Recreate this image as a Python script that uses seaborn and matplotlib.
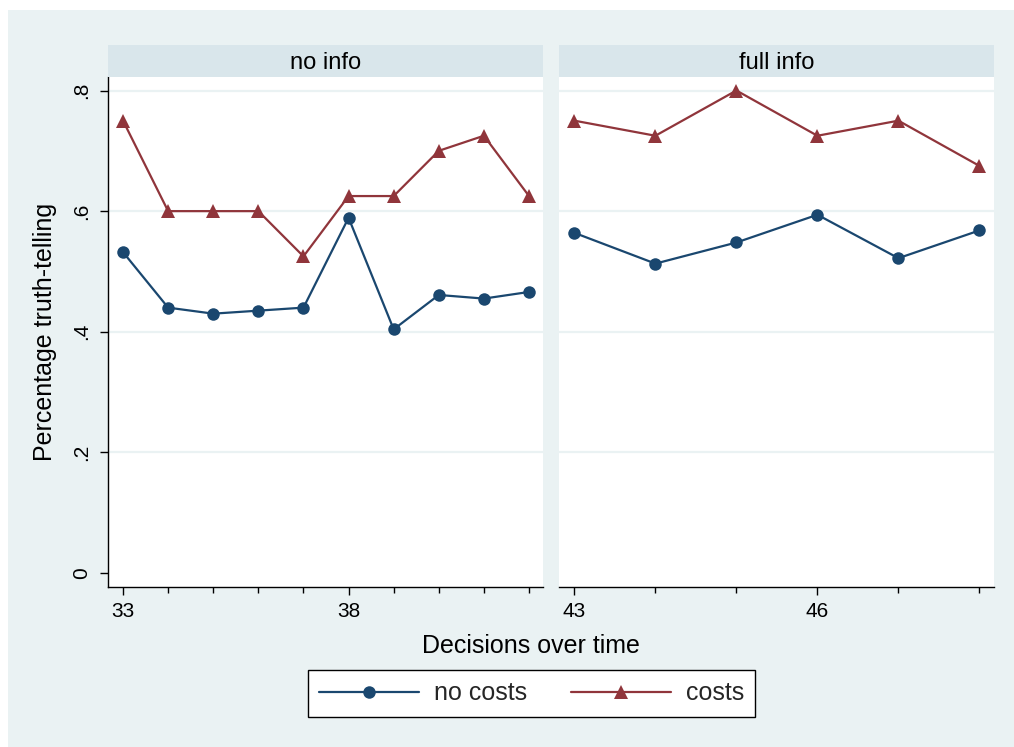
import numpy as np
import pandas as pd
import matplotlib
matplotlib.use("Agg")
import matplotlib.pyplot as plt
import seaborn as sns
from matplotlib.lines import Line2D
from matplotlib.patches import Rectangle

sns.set_theme(style="white")
plt.rcParams["font.family"] = ["Liberation Sans", "DejaVu Sans"]

# ---- data -------------------------------------------------------------
series_names = ["no costs", "costs"]

periods_noinfo = [33, 34, 35, 36, 37, 38, 39, 40, 41, 42]
nocost_noinfo = [0.532, 0.440, 0.430, 0.435, 0.440, 0.589, 0.404, 0.461, 0.455, 0.466]
cost_noinfo = [0.750, 0.600, 0.600, 0.600, 0.525, 0.625, 0.625, 0.700, 0.725, 0.625]

periods_fullinfo = [43, 44, 45, 46, 47, 48]
nocost_fullinfo = [0.564, 0.513, 0.548, 0.594, 0.522, 0.568]
cost_fullinfo = [0.750, 0.725, 0.800, 0.725, 0.750, 0.675]

panel_titles = ["no info", "full info"]
xticks_noinfo = [33, 38]
xticks_fullinfo = [43, 46]
yticks = [0, 0.2, 0.4, 0.6, 0.8]
ytick_labels = ["0", ".2", ".4", ".6", ".8"]

# ---- style ------------------------------------------------------------
NAVY = "#1a476f"
MAROON = "#90353b"
BG = "#eaf2f3"
STRIP = "#d9e6eb"
palette = {"no costs": NAVY, "costs": MAROON}
markers = {"no costs": "o", "costs": "^"}

W, H = 1014, 747
fig = plt.figure(figsize=(W / 100, H / 100), dpi=100)
fig.patch.set_facecolor("white")
fig.patches.append(Rectangle((8 / W, 0), 1 - 8 / W, 1 - 10 / H,
                             transform=fig.transFigure, facecolor=BG,
                             edgecolor="none", zorder=-10))


def px_axes(x0, y0, x1, y1):
    return fig.add_axes([x0 / W, 1 - y1 / H, (x1 - x0) / W, (y1 - y0) / H])


panels = [
    dict(title=panel_titles[0], periods=periods_noinfo, nocost=nocost_noinfo,
         cost=cost_noinfo, ticks=xticks_noinfo, xlim=(32.667, 42.31),
         box=(108, 77, 543, 587), first=True),
    dict(title=panel_titles[1], periods=periods_fullinfo, nocost=nocost_fullinfo,
         cost=cost_fullinfo, ticks=xticks_fullinfo, xlim=(42.81, 48.18),
         box=(559, 77, 994, 587), first=False),
]

for p in panels:
    x0, y0, x1, y1 = p["box"]
    ax = px_axes(x0, y0, x1, y1)
    ax.set_facecolor("white")
    n = len(p["periods"])
    df = pd.DataFrame({
        "period": list(p["periods"]) * 2,
        "share": list(p["nocost"]) + list(p["cost"]),
        "group": [series_names[0]] * n + [series_names[1]] * n,
    })
    sns.lineplot(data=df, x="period", y="share", hue="group", style="group",
                 hue_order=series_names, style_order=series_names,
                 markers=markers, dashes=False, palette=palette, ax=ax,
                 legend=False, linewidth=1.6, markeredgewidth=0, zorder=3)
    for ln in ax.lines:
        ln.set_markersize(9.6 if ln.get_marker() == "^" else 9.0)

    for lvl in yticks[1:]:
        ax.axhline(lvl, color=BG, linewidth=1.6, zorder=1)

    ax.set_xlim(*p["xlim"])
    ax.set_ylim(-0.0232, 0.8224)
    ax.set_xticks(p["ticks"])
    ax.set_xticklabels([str(t) for t in p["ticks"]])
    ax.set_xticks(list(p["periods"]), minor=True)
    ax.set_yticks(yticks)
    ax.set_xlabel("")
    ax.set_ylabel("")
    for s in ["top", "right"]:
        ax.spines[s].set_visible(False)
    ax.spines["bottom"].set_color("black")
    ax.spines["bottom"].set_linewidth(1.0)
    ax.tick_params(axis="x", which="major", bottom=True, length=6, width=1,
                   color="black", labelsize=15, pad=5, labelcolor="black")
    ax.tick_params(axis="x", which="minor", bottom=True, length=4, width=1,
                   color="black")
    if p["first"]:
        ax.spines["left"].set_color("black")
        ax.spines["left"].set_linewidth(1.0)
        ax.set_yticklabels(ytick_labels, rotation=90, va="center")
        ax.tick_params(axis="y", left=True, length=6, width=1, color="black",
                       labelsize=15, pad=6, labelcolor="black")
    else:
        ax.spines["left"].set_visible(False)
        ax.tick_params(axis="y", left=False, labelleft=False)

    strip = px_axes(x0, 45, x1, 77)
    strip.set_facecolor(STRIP)
    strip.set_xticks([])
    strip.set_yticks([])
    for s in strip.spines.values():
        s.set_visible(False)
    strip.text(0.5, 0.45, p["title"], ha="center", va="center", fontsize=17,
               color="black", transform=strip.transAxes)

fig.text(531 / W, 1 - 646 / H, "Decisions over time", ha="center", va="center",
         fontsize=18, color="black")
fig.text(45 / W, 1 - 332 / H, "Percentage truth-telling", ha="center",
         va="center", rotation=90, fontsize=18, color="black")

handles = [
    Line2D([], [], color=NAVY, linewidth=1.6, marker="o", markersize=9.0,
           markeredgewidth=0),
    Line2D([], [], color=MAROON, linewidth=1.6, marker="^", markersize=9.6,
           markeredgewidth=0),
]
leg = fig.legend(handles, series_names, loc="center",
                 bbox_to_anchor=(531.5 / W, 1 - 693.5 / H), ncol=2,
                 frameon=True, fancybox=False, framealpha=1, edgecolor="black",
                 fontsize=18, handlelength=4.0, handletextpad=0.6,
                 columnspacing=1.75, borderpad=0.45, numpoints=1)
leg.get_frame().set_linewidth(1.0)
leg.get_frame().set_facecolor("white")

fig.savefig("out.png", dpi=100)
